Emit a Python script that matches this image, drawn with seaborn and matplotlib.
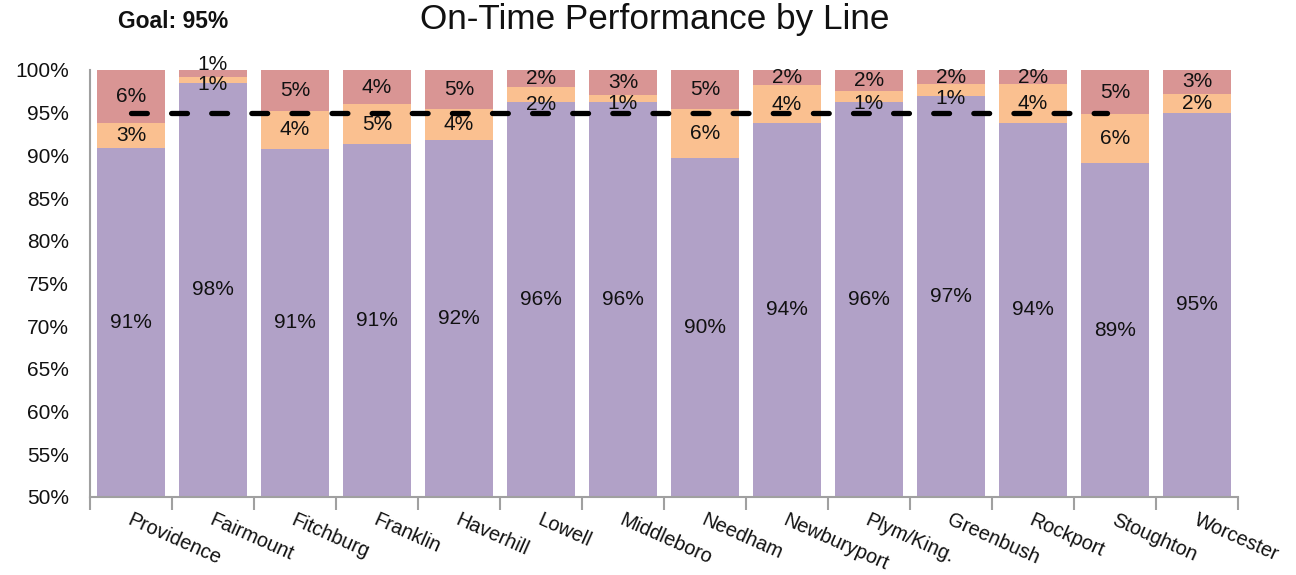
import matplotlib
matplotlib.use("Agg")
import matplotlib.pyplot as plt
import seaborn as sns
import numpy as np
import pandas as pd

# ─── Data ───────────────────────────────────────────────────────────────────
lines = ["Providence", "Fairmount", "Fitchburg", "Franklin", "Haverhill", "Lowell",
         "Middleboro", "Needham", "Newburyport", "Plym/King.", "Greenbush",
         "Rockport", "Stoughton", "Worcester"]
on_time = [90.9, 98.5, 90.8, 91.3, 91.8, 96.2, 96.3, 89.7, 93.8, 96.3, 96.9, 93.8, 89.1, 95.0]
late_5_10 = [2.9, 0.7, 4.4, 4.7, 3.6, 1.8, 0.8, 5.7, 4.4, 1.2, 1.4, 4.5, 5.7, 2.2]
late_10 = [6.2, 0.8, 4.8, 4.0, 4.6, 2.0, 2.9, 4.6, 1.8, 2.5, 1.7, 1.7, 5.2, 2.8]
goal = 95
yticks = list(range(50, 101, 5))

PURPLE = "#B1A1C7"
ORANGE = "#FAC090"
RED = "#D99594"
GRAY = "#A0A0A0"
INK = "#111111"

# ─── Style ──────────────────────────────────────────────────────────────────
sns.set_theme(style="white")
plt.rcParams["font.family"] = ["Liberation Sans", "DejaVu Sans"]

df = pd.DataFrame({"Line": lines, "OnTime": on_time, "Mid": late_5_10, "Late": late_10})
df["Cum2"] = df["OnTime"] + df["Mid"]
df["Cum3"] = df["Cum2"] + df["Late"]

fig = plt.figure(figsize=(12.96, 5.75), dpi=100)
ax = fig.add_axes([0.0694, 0.1357, 0.8858, 0.7426])

# stacked bars drawn as cumulative layers, tallest first
for col, color in [("Cum3", RED), ("Cum2", ORANGE), ("OnTime", PURPLE)]:
    sns.barplot(data=df, x="Line", y=col, color=color, width=0.82, linewidth=0,
                saturation=1, ax=ax)

ax.set_ylim(50, 100)
ax.set_xlim(-0.5, len(lines) - 0.5)
ax.set_yticks(yticks)
ax.set_yticklabels([f"{v}%" for v in yticks], fontsize=15, color=INK)
ax.set_xlabel("")
ax.set_ylabel("")

# segment labels: centred, small ones pushed apart like Excel does
for i, row in df.iterrows():
    y_on = (50 + row["OnTime"]) / 2
    y_mid = row["OnTime"] + row["Mid"] / 2
    y_late = row["Cum2"] + row["Late"] / 2
    if row["Mid"] < 2:
        y_mid = row["OnTime"] - 0.2
    if row["Late"] < 1:
        y_late += 1.0
    for yc, val in [(y_on, row["OnTime"]), (y_mid, row["Mid"]), (y_late, row["Late"])]:
        ax.text(i, yc, f"{val:.0f}%", ha="center", va="center", fontsize=15,
                color=INK, clip_on=False)

# goal line
ax.plot([0, len(lines) - 2.1], [goal, goal], color="black", lw=3.8,
        linestyle=(0, (3.0, 4.6)), dash_capstyle="round", zorder=5)

# spines and ticks
for s in ["top", "right"]:
    ax.spines[s].set_visible(False)
for s in ["left", "bottom"]:
    ax.spines[s].set_color(GRAY)
    ax.spines[s].set_linewidth(1.5)

ax.set_xticks(np.arange(len(lines)))
ax.set_xticklabels([])
ax.set_xticks(np.arange(-0.5, len(lines)), minor=True)
ax.tick_params(axis="x", which="minor", bottom=True, length=9, width=1.5, color=GRAY)
ax.tick_params(axis="x", which="major", bottom=False)
ax.tick_params(axis="y", left=False, pad=9)

for i, name in enumerate(lines):
    ax.text(i + 0.02, 48.4, name, rotation=-24, rotation_mode="anchor", ha="left",
            va="top", fontsize=14.3, color=INK, clip_on=False)

fig.text(0.505, 0.966, "On-Time Performance by Line", ha="center", va="center",
         fontsize=25.3, color=INK)
fig.text(0.091, 0.963, "Goal: 95%", ha="left", va="center", fontsize=16.5,
         fontweight="bold", color=INK)

fig.savefig("out.png", dpi=100)
